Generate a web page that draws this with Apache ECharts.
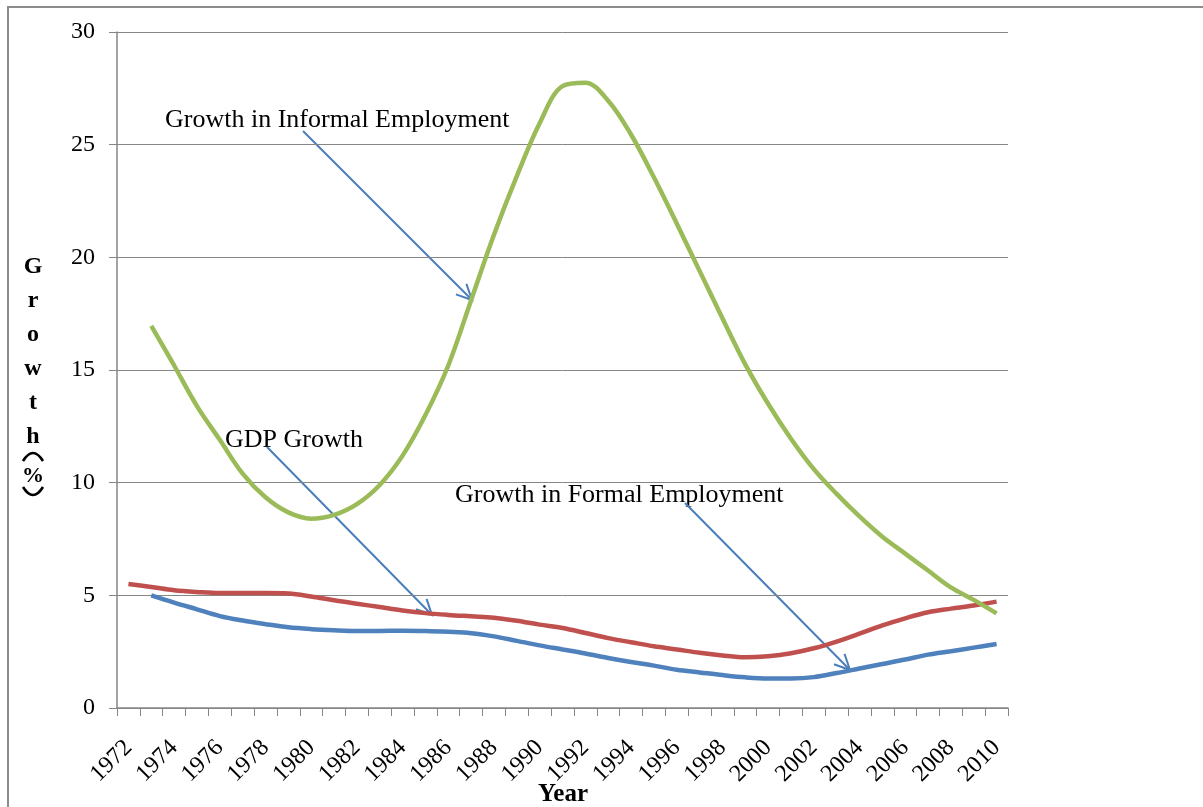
<!DOCTYPE html>
<html>
<head>
<meta charset="utf-8">
<script src="https://cdn.jsdelivr.net/npm/echarts@6/dist/echarts.min.js"></script>
<style>
  html, body { margin: 0; padding: 0; background: #fff; }
  #chart { width: 1203px; height: 807px; }
</style>
</head>
<body>
<div id="chart"></div>
<script>
// categories
const years = ['1972', '1973', '1974', '1975', '1976', '1977', '1978', '1979', '1980', '1981',
  '1982', '1983', '1984', '1985', '1986', '1987', '1988', '1989', '1990', '1991',
  '1992', '1993', '1994', '1995', '1996', '1997', '1998', '1999', '2000', '2001',
  '2002', '2003', '2004', '2005', '2006', '2007', '2008', '2009', '2010']

// series values
const gdpGrowth = [5.5, 5.37, 5.23, 5.15, 5.1, 5.1, 5.1, 5.08, 4.95, 4.78,
  4.63, 4.48, 4.33, 4.21, 4.13, 4.07, 4.01, 3.87, 3.7, 3.55,
  3.33, 3.1, 2.92, 2.74, 2.6, 2.45, 2.33, 2.25, 2.3, 2.43,
  2.65, 2.95, 3.3, 3.67, 3.98, 4.25, 4.41, 4.55, 4.72]
const formalGrowth = [null, 5.0, 4.68, 4.38, 4.08, 3.88, 3.72, 3.58, 3.5, 3.45,
  3.42, 3.42, 3.43, 3.42, 3.38, 3.32, 3.18, 2.98, 2.78, 2.6,
  2.42, 2.22, 2.04, 1.88, 1.7, 1.58, 1.46, 1.36, 1.31, 1.31,
  1.37, 1.55, 1.75, 1.95, 2.15, 2.37, 2.52, 2.68, 2.84]
const informalGrowth = [null, 16.96, 15.2, 13.4, 11.9, 10.4, 9.35, 8.68, 8.4, 8.57,
  9.05, 9.9, 11.2, 13.0, 15.2, 18.1, 21.0, 23.6, 25.95, 27.6,
  27.75, 26.95, 25.45, 23.55, 21.5, 19.4, 17.3, 15.25, 13.5, 11.95,
  10.6, 9.5, 8.5, 7.6, 6.85, 6.1, 5.35, 4.8, 4.2]

const serif = 'Liberation Serif'
const arrowColor = '#4A7EBB'

// thin annotation arrow with an open head
function arrow (x1, y1, x2, y2) {
  const a = Math.atan2(y2 - y1, x2 - x1)
  const len = 17
  const spread = 0.45
  return {
    type: 'group',
    children: [
      { type: 'line', shape: { x1: x1, y1: y1, x2: x2, y2: y2 }, style: { stroke: arrowColor, lineWidth: 2 } },
      {
        type: 'polyline',
        shape: {
          points: [
            [x2 - len * Math.cos(a - spread), y2 - len * Math.sin(a - spread)],
            [x2, y2],
            [x2 - len * Math.cos(a + spread), y2 - len * Math.sin(a + spread)]
          ]
        },
        style: { stroke: arrowColor, lineWidth: 2, fill: null }
      }
    ]
  }
}

function label (text, x, y, opts) {
  return {
    type: 'text',
    x: x,
    y: y,
    style: Object.assign({
      text: text,
      fontFamily: serif,
      fontSize: 26,
      fill: '#000',
      verticalAlign: 'middle'
    }, opts || {})
  }
}

// the "( )" of the stacked y title are drawn turned, like ⌒ and ⌣
function turnedParen (y, bend) {
  return {
    type: 'bezierCurve',
    shape: { x1: 23, y1: y, x2: 43, y2: y, cpx1: 33, cpy1: y + bend },
    style: { stroke: '#000', lineWidth: 2.6, fill: null }
  }
}

const chart = echarts.init(document.getElementById('chart'))
chart.setOption({
  animation: false,
  backgroundColor: '#fff',
  grid: {
    left: 117,
    right: 195,
    top: 32,
    bottom: 99
  },
  xAxis: {
    type: 'category',
    data: years,
    boundaryGap: true,
    axisLine: { lineStyle: { color: '#868686', width: 1.5 } },
    axisTick: { show: true, interval: 0, length: 8, lineStyle: { color: '#868686' } },
    axisLabel: {
      interval: 1,
      rotate: 45,
      margin: 36,
      fontFamily: serif,
      fontSize: 24,
      color: '#000'
    },
    splitLine: { show: false }
  },
  yAxis: {
    type: 'value',
    min: 0,
    max: 30,
    interval: 5,
    axisLine: { show: true, lineStyle: { color: '#868686', width: 1.5 } },
    axisTick: { show: true, length: 8, lineStyle: { color: '#868686' } },
    axisLabel: {
      margin: 22,
      fontFamily: serif,
      fontSize: 24,
      color: '#000'
    },
    splitLine: { lineStyle: { color: '#868686', width: 1 } }
  },
  series: [
    {
      name: 'Growth in Informal Employment',
      type: 'line',
      data: informalGrowth,
      smooth: 0.35,
      showSymbol: false,
      z: 3,
      lineStyle: { color: '#9BBB59', width: 4.5 }
    },
    {
      name: 'GDP Growth',
      type: 'line',
      data: gdpGrowth,
      smooth: 0.35,
      showSymbol: false,
      z: 2,
      lineStyle: { color: '#C0504D', width: 4.5 }
    },
    {
      name: 'Growth in Formal Employment',
      type: 'line',
      data: formalGrowth,
      smooth: 0.35,
      showSymbol: false,
      z: 2,
      lineStyle: { color: '#4F81BD', width: 4.5 }
    }
  ],
  graphic: [
    // outer frame of the figure
    {
      type: 'rect',
      shape: { x: 8, y: 7, width: 1400, height: 1000 },
      style: { fill: null, stroke: '#8c8c8c', lineWidth: 2 },
      silent: true
    },
    label('Growth in Informal Employment', 165, 120),
    label('GDP Growth', 225, 440),
    label('Growth in Formal Employment', 455, 495),
    arrow(303, 131, 472, 300),
    arrow(267, 447, 432, 615),
    arrow(685, 503, 850, 670),
    // axis titles
    label('Year', 563, 795, { fontWeight: 'bold', fontSize: 25, align: 'center' }),
    {
      type: 'text',
      x: 33,
      y: 250,
      style: {
        text: 'G\nr\no\nw\nt\nh',
        fontFamily: serif,
        fontWeight: 'bold',
        fontSize: 24,
        lineHeight: 34,
        align: 'center',
        fill: '#000'
      }
    },
    turnedParen(461, -16),
    label('%', 33, 476, { fontWeight: 'bold', fontSize: 22, align: 'center' }),
    turnedParen(487, 16)
  ]
})
</script>
</body>
</html>
